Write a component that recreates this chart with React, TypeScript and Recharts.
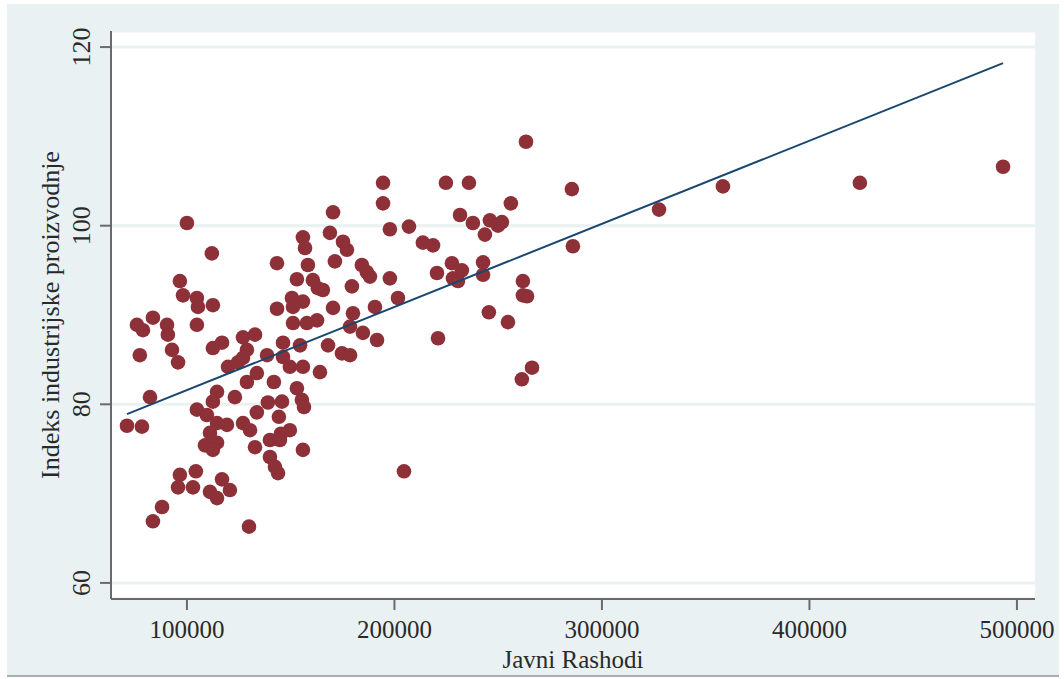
import { ScatterChart, Scatter, XAxis, YAxis, CartesianGrid } from 'recharts';

// Javni rashodi (x) i indeks industrijske proizvodnje (y)
const rashodi = [
  100000, 112000, 143400, 96600, 98100, 104800, 105300, 112500, 83600, 75900,
  90400, 104800, 143400, 78800, 90800, 92800, 95700, 77300, 112500, 116900,
  127000, 132800, 128900, 127000, 138600, 119800, 124600, 128900, 133700, 141900,
  82200, 114500, 123100, 104800, 109600, 112500, 114500, 71100, 78300, 119300,
  127000, 133700, 139000, 144300, 145300, 149600, 111100, 130400, 108700, 114500,
  112500, 132800, 140000, 144800, 140000, 142400, 143900, 96600, 104300, 95700,
  102900, 116900, 111100, 114500, 120700, 88000, 83600, 129900, 170400, 194500,
  194500, 197800, 207000, 213700, 218600, 220500, 155900, 156900, 168900, 175200,
  177100, 158300, 171300, 184300, 186700, 188200, 197800, 179500, 153000, 160700,
  163100, 165500, 150600, 155900, 151100, 170400, 180000, 190600, 201700, 162700,
  151100, 157800, 178600, 184800, 191600, 221000, 146300, 154500, 168000, 174700,
  178600, 146300, 149600, 155900, 164100, 153000, 155400, 156400, 145800, 155900,
  204600, 263400, 224800, 235900, 285500, 256100, 231600, 237800, 246000, 251800,
  249900, 243600, 286000, 227700, 232500, 228200, 230600, 242700, 242700, 261900,
  261900, 263900, 245500, 254700, 266300, 261400, 327500, 358300, 424300, 493300,
];

const indeks = [
  100.3, 96.9, 95.8, 93.8, 92.2, 91.9, 90.9, 91.1, 89.7, 88.9,
  88.9, 88.9, 90.7, 88.3, 87.8, 86.1, 84.7, 85.5, 86.3, 86.9,
  87.5, 87.8, 86.1, 85.2, 85.5, 84.2, 84.7, 82.5, 83.5, 82.5,
  80.8, 81.4, 80.8, 79.4, 78.8, 80.3, 77.9, 77.6, 77.5, 77.7,
  77.9, 79.1, 80.2, 78.6, 76.7, 77.1, 76.8, 77.1, 75.4, 75.7,
  74.9, 75.2, 76.0, 76.0, 74.1, 73.0, 72.3, 72.1, 72.5, 70.7,
  70.7, 71.6, 70.2, 69.5, 70.4, 68.5, 66.9, 66.3, 101.5, 102.5,
  104.8, 99.6, 99.9, 98.1, 97.8, 94.7, 98.7, 97.5, 99.2, 98.2,
  97.3, 95.6, 96.0, 95.6, 94.8, 94.3, 94.1, 93.2, 94.0, 93.9,
  93.0, 92.8, 91.9, 91.5, 90.9, 90.8, 90.2, 90.9, 91.9, 89.4,
  89.1, 89.1, 88.7, 88.0, 87.2, 87.4, 86.9, 86.6, 86.6, 85.7,
  85.5, 85.3, 84.2, 84.2, 83.6, 81.8, 80.5, 79.7, 80.3, 74.9,
  72.5, 109.4, 104.8, 104.8, 104.1, 102.5, 101.2, 100.3, 100.6, 100.4,
  100.0, 99.0, 97.7, 95.8, 95.0, 94.1, 93.8, 95.9, 94.5, 93.8,
  92.2, 92.1, 90.3, 89.2, 84.1, 82.8, 101.8, 104.4, 104.8, 106.6,
];

// fitted line ends
const fitX = [71100, 493300];
const fitY = [78.9, 118.2];

const xTicks = [100000, 200000, 300000, 400000, 500000];
const yTicks = [60, 80, 100, 120];

const points = rashodi.map((x, i) => ({ x, y: indeks[i] }));
const fit = fitX.map((x, i) => ({ x, y: fitY[i] }));

const FONT = '"Liberation Serif", "Times New Roman", serif';
const AXIS = '#6a6a6a';

// eslint-disable-next-line @typescript-eslint/no-explicit-any
const XTick = (props: any) => {
  const { x, y, payload } = props;
  return (
    <text x={x} y={y + 26} textAnchor="middle" fontSize={25} fontFamily={FONT} fill="#2a2a2a">
      {payload.value}
    </text>
  );
};

// eslint-disable-next-line @typescript-eslint/no-explicit-any
const YTick = (props: any) => {
  const { x, y, payload } = props;
  const bx = x - 8;
  return (
    <text x={bx} y={y} transform={`rotate(-90 ${bx} ${y})`} textAnchor="middle" fontSize={26} fontFamily={FONT} fill="#2a2a2a">
      {payload.value}
    </text>
  );
};

// eslint-disable-next-line @typescript-eslint/no-explicit-any
const Dot = (props: any) => <circle cx={props.cx} cy={props.cy} r={7.3} fill="#8e3038" />;

export default function App() {
  return (
    <div style={{ position: 'absolute', left: 0, top: 0, width: 1064, height: 679, background: '#fff' }}>
      <div style={{ position: 'absolute', left: 7, top: 4, width: 1052, height: 671, background: '#e9f1f3', borderBottom: '2px solid #a9adae' }} />
      <div style={{ position: 'absolute', left: 0, top: 0 }}>
        <ScatterChart width={1064} height={679} margin={{ top: 31, right: 29, bottom: 0, left: 0 }}>
          <CartesianGrid fill="#ffffff" vertical={false} stroke="#e9f1f1" strokeWidth={3} />
          <XAxis
            type="number"
            dataKey="x"
            domain={[63400, 508700]}
            ticks={xTicks}
            allowDataOverflow
            height={80}
            tickSize={11}
            axisLine={{ stroke: AXIS, strokeWidth: 2 }}
            tickLine={{ stroke: AXIS, strokeWidth: 2 }}
            tick={<XTick />}
            label={{
              content: () => (
                <text x={573} y={668} textAnchor="middle" fontSize={25} fontFamily={FONT} fill="#2a2a2a">
                  Javni Rashodi
                </text>
              ),
            }}
          />
          <YAxis
            type="number"
            dataKey="y"
            domain={[58.2, 121.8]}
            ticks={yTicks}
            allowDataOverflow
            width={111}
            tickSize={11}
            axisLine={{ stroke: AXIS, strokeWidth: 2 }}
            tickLine={{ stroke: AXIS, strokeWidth: 2 }}
            tick={<YTick />}
            label={{
              content: () => (
                <text x={59} y={315} transform="rotate(-90 59 315)" textAnchor="middle" fontSize={26} fontFamily={FONT} fill="#2a2a2a">
                  Indeks industrijske proizvodnje
                </text>
              ),
            }}
          />
          <Scatter data={points} shape={<Dot />} isAnimationActive={false} />
          <Scatter
            data={fit}
            line={{ stroke: '#1a476f', strokeWidth: 2 }}
            shape={() => <g />}
            isAnimationActive={false}
          />
        </ScatterChart>
      </div>
    </div>
  );
}
